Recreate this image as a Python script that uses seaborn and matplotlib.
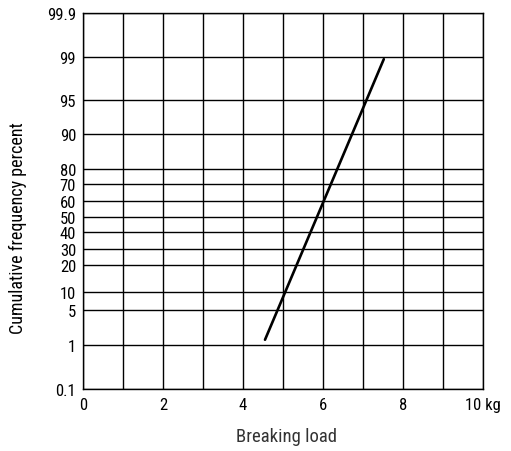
import numpy as np
import pandas as pd
import matplotlib
matplotlib.use('Agg')
import matplotlib.pyplot as plt
import seaborn as sns
import logging
logging.getLogger('matplotlib.font_manager').setLevel(logging.ERROR)

# ---- data ----
load_kg = [4.55, 7.52]
cum_pct = [1.6, 98.8]
y_ticks = [0.1, 1, 5, 10, 20, 30, 40, 50, 60, 70, 80, 90, 95, 99, 99.9]
y_tick_labels = ['0.1', '1', '5', '10', '20', '30', '40', '50', '60', '70', '80', '90', '95', '99', '99.9']
x_ticks = [0, 2, 4, 6, 8, 10]
x_tick_labels = ['0', '2', '4', '6', '8', '10 kg']
x_minor = [1, 3, 5, 7, 9]

sns.set_style('white')
plt.rcParams['font.family'] = ['Roboto Condensed', 'Liberation Sans Narrow', 'Arial Narrow',
                               'Archivo Narrow', 'PT Sans Narrow', 'DejaVu Sans']

# probability-paper style scale (position of each gridline on the printed paper)
_p = np.array(y_ticks, dtype=float)
_s = np.array([0, 44, 79, 97, 124, 140, 157, 172, 188, 205, 220, 255, 289, 332, 376], dtype=float) / 376.0

def fwd(v):
    return np.interp(v, _p, _s)

def inv(v):
    return np.interp(v, _s, _p)

fig = plt.figure(figsize=(5.11, 4.52), dpi=100)
ax = fig.add_axes([83 / 511, 62 / 452, 400 / 511, 376 / 452])
ax.set_yscale('function', functions=(fwd, inv))

df = pd.DataFrame({'load': load_kg, 'pct': cum_pct})
sns.lineplot(data=df, x='load', y='pct', ax=ax, color='black', linewidth=1.9, sort=False)

ax.set_xlim(0, 10)
ax.set_ylim(0.1, 99.9)
ax.set_xticks(x_ticks)
ax.set_xticklabels(x_tick_labels)
ax.set_xticks(x_minor, minor=True)
ax.set_yticks(y_ticks)
ax.set_yticklabels(y_tick_labels)
ax.yaxis.set_minor_locator(matplotlib.ticker.NullLocator())

ax.grid(True, which='both', color='black', linewidth=1.0)
ax.set_axisbelow(True)
for sp in ax.spines.values():
    sp.set_color('black')
    sp.set_linewidth(1.0)

ax.tick_params(axis='both', which='both', length=0, labelsize=12, colors='black')
ax.tick_params(axis='x', pad=6)
ax.tick_params(axis='y', pad=5)

ax.set_xlabel('Breaking load', fontsize=13.5, color='#333333')
ax.set_ylabel('Cumulative frequency percent', fontsize=13, color='black')
ax.xaxis.set_label_coords(0.51, -0.1)
ax.yaxis.set_label_coords(-0.14, 0.43)

fig.savefig('out.png', dpi=100)
